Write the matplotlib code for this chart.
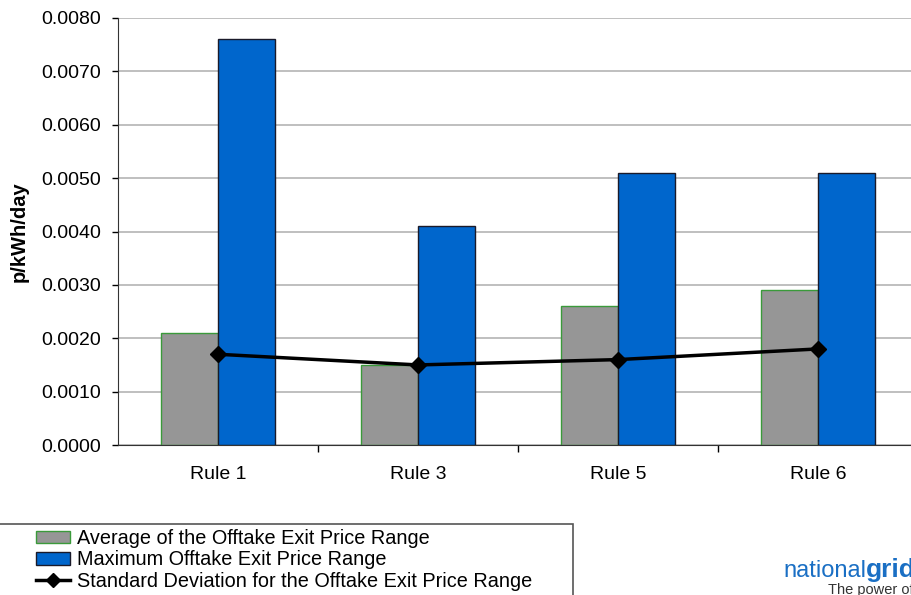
import numpy as np
import matplotlib.pyplot as plt
import matplotlib.ticker as ticker
from matplotlib.patches import Patch, Rectangle
from matplotlib.lines import Line2D
import matplotlib as mpl

mpl.rcParams['font.family'] = ['Liberation Sans', 'DejaVu Sans']

# data
rules = ['Rule 1', 'Rule 3', 'Rule 5', 'Rule 6']
avg_range = [0.0021, 0.0015, 0.0026, 0.0029]
max_range = [0.0076, 0.0041, 0.0051, 0.0051]
std_range = [0.0017, 0.0015, 0.0016, 0.0018]

fig = plt.figure(figsize=(9.12, 5.95), dpi=100)
ax = fig.add_axes([118 / 912, 1 - 445 / 595, 800 / 912, 427 / 595])

x = np.arange(len(rules))
w = 0.285
ax.bar(x - w / 2, avg_range, w, color='#969696', edgecolor='#3a9a3a', linewidth=1.0, zorder=2)
ax.bar(x + w / 2, max_range, w, color='#0066cc', edgecolor='#1a1a2a', linewidth=1.0, zorder=2)
ax.plot(x, std_range, color='black', linewidth=2.5, marker='D', markersize=8, zorder=3)

ax.set_xlim(-0.5, 3.5)
ax.set_ylim(0, 0.008)
ax.yaxis.set_major_locator(ticker.MultipleLocator(0.001))
ax.yaxis.set_major_formatter(ticker.StrMethodFormatter('{x:.4f}'))
ax.grid(axis='y', color='#b4b4b4', linewidth=1.2, zorder=0)
ax.set_axisbelow(True)

ax.set_xticks(x)
ax.set_xticklabels(rules)
ax.set_xticks([0.5, 1.5, 2.5], minor=True)
ax.tick_params(axis='x', which='major', length=0, pad=15, labelsize=14)
ax.tick_params(axis='x', which='minor', length=5, width=1, direction='out')
ax.tick_params(axis='y', length=4, width=1, pad=8, labelsize=14)

for s in ['top', 'right']:
    ax.spines[s].set_visible(False)
ax.spines['left'].set_color('#333333')
ax.spines['bottom'].set_color('#333333')

ax.set_ylabel('p/kWh/day', fontsize=14.5, fontweight='bold')
ax.yaxis.set_label_coords(-0.111, 0.5)

handles = [
    Patch(facecolor='#969696', edgecolor='#3a9a3a'),
    Patch(facecolor='#0066cc', edgecolor='#1a1a2a'),
    Line2D([], [], color='black', linewidth=2.5, marker='D', markersize=7),
]
labels = ['Average of the Offtake Exit Price Range',
          'Maximum Offtake Exit Price Range',
          'Standard Deviation for the Offtake Exit Price Range']
leg = fig.legend(handles, labels, loc='upper left', bbox_to_anchor=(36 / 912, 1 - 529 / 595),
                 frameon=False, fontsize=14.3, handlelength=1.7, handleheight=0.6,
                 handletextpad=0.35, labelspacing=0.12, borderpad=0, borderaxespad=0)

# legend box drawn separately (it has extra room on the right)
fig.patches.append(Rectangle((-2 / 912, -0.01), 575 / 912, 1 - 524 / 595 + 0.01,
                             transform=fig.transFigure, fill=False,
                             edgecolor='#555555', linewidth=1.2))

# logo text
fig.text(783 / 912, 1 - 577 / 595, 'national', color='#1a6fc4', fontsize=17, ha='left', va='baseline')
fig.text(866 / 912, 1 - 577 / 595, 'grid', color='#1a6fc4', fontsize=19, fontweight='bold',
         ha='left', va='baseline')
fig.text(828 / 912, 1 - 594 / 595, 'The power of action', color='#333333', fontsize=10.5,
         ha='left', va='baseline')

fig.savefig('out.png', dpi=100)
